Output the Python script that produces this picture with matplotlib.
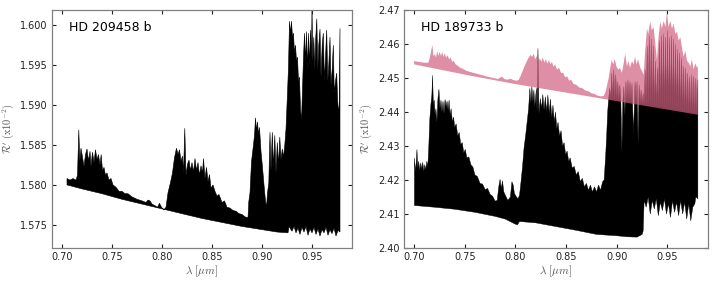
import numpy as np
import matplotlib
matplotlib.use("Agg")
import matplotlib.pyplot as plt

plt.rcParams['mathtext.fontset'] = 'cm'
plt.rcParams['font.family'] = ['DejaVu Sans']

# ---------------- HD 209458 b (left panel) ----------------
wl_up_a = [0.705, 0.708, 0.711, 0.714, 0.7155, 0.7168, 0.7178, 0.719, 0.7205, 0.722, 0.7235, 0.725,
           0.7265, 0.728, 0.729, 0.7305, 0.732, 0.7335, 0.735, 0.7365, 0.738, 0.7392, 0.7405, 0.742,
           0.7435, 0.745, 0.747, 0.749, 0.751, 0.754, 0.757, 0.760, 0.763, 0.766, 0.770, 0.775, 0.780,
           0.784, 0.786, 0.788, 0.790, 0.793, 0.7955, 0.7975, 0.7995, 0.802, 0.804, 0.806, 0.8085,
           0.8105, 0.8125, 0.8145, 0.816, 0.8175, 0.819, 0.8205, 0.8215, 0.8228, 0.824, 0.8255, 0.827,
           0.8285, 0.830, 0.8315, 0.833, 0.8345, 0.836, 0.8375, 0.839, 0.8405, 0.8415, 0.843, 0.8445,
           0.846, 0.8475, 0.849, 0.851, 0.853, 0.855, 0.857, 0.860, 0.8625, 0.865, 0.868, 0.871, 0.874,
           0.877, 0.880, 0.883, 0.886, 0.8868, 0.888, 0.8895, 0.891, 0.8925, 0.8935, 0.8945, 0.8955,
           0.8965, 0.8975, 0.899, 0.9005, 0.902, 0.9035, 0.9045, 0.9055, 0.9068, 0.908, 0.909, 0.9103,
           0.9115, 0.9128, 0.914, 0.9153, 0.9165, 0.9178, 0.919, 0.9203, 0.9215, 0.9228, 0.924, 0.9255,
           0.9265, 0.9275, 0.9285, 0.9295, 0.9305, 0.9315, 0.9325, 0.9335, 0.9345, 0.9355, 0.9365,
           0.9375, 0.9385, 0.9395, 0.9405, 0.9415, 0.9425, 0.9435, 0.9445, 0.9455, 0.9465, 0.9475,
           0.9485, 0.9495, 0.9500, 0.9508, 0.9518, 0.9528, 0.9538, 0.9548, 0.9558, 0.9568, 0.958,
           0.959, 0.9602, 0.9613, 0.9625, 0.9637, 0.9647, 0.9658, 0.9668, 0.968, 0.969, 0.9702, 0.9713,
           0.9723, 0.9735, 0.9747, 0.9757, 0.9765, 0.9772, 0.978]
up_a = [1.5808, 1.5806, 1.5808, 1.5806, 1.5812, 1.5869, 1.5830, 1.5846, 1.5835, 1.5823, 1.5838, 1.5845,
        1.5830, 1.5842, 1.5823, 1.5841, 1.5828, 1.5844, 1.5832, 1.5838, 1.5825, 1.5838, 1.5818, 1.5822,
        1.5812, 1.5815, 1.5806, 1.5808, 1.5800, 1.5797, 1.5792, 1.5792, 1.5789, 1.5789, 1.5785, 1.5782,
        1.5780, 1.5778, 1.5781, 1.5780, 1.5776, 1.5774, 1.5772, 1.5777, 1.5772, 1.5769, 1.5772, 1.5790,
        1.5803, 1.5815, 1.5834, 1.5846, 1.5838, 1.5844, 1.5830, 1.5836, 1.5815, 1.5871, 1.5812, 1.5826,
        1.5831, 1.5818, 1.5828, 1.5816, 1.5833, 1.5818, 1.5828, 1.5812, 1.5824, 1.5815, 1.5833, 1.5808,
        1.5822, 1.5804, 1.5813, 1.5796, 1.5800, 1.5792, 1.5786, 1.5788, 1.5778, 1.5780, 1.5772, 1.5771,
        1.5768, 1.5767, 1.5764, 1.5763, 1.5760, 1.5759, 1.5779, 1.5790, 1.5829, 1.5845, 1.5862, 1.5884,
        1.5868, 1.5879, 1.5863, 1.5872, 1.5842, 1.5822, 1.5800, 1.5780, 1.5772, 1.5790, 1.5802, 1.5866,
        1.5818, 1.5866, 1.5822, 1.5862, 1.5815, 1.5853, 1.5825, 1.5860, 1.5832, 1.5845, 1.5835, 1.5850,
        1.5870, 1.5915, 1.5948, 1.6005, 1.5990, 1.6005, 1.5985, 1.5990, 1.5965, 1.5975, 1.5955, 1.5960,
        1.5930, 1.5935, 1.5895, 1.5880, 1.5920, 1.5960, 1.5990, 1.5955, 1.5992, 1.5945, 1.5990, 1.5950,
        1.5994, 1.5960, 1.6025, 1.5955, 1.5985, 1.5945, 1.5985, 1.6008, 1.5945, 1.5975, 1.5995, 1.5935,
        1.5975, 1.5990, 1.5930, 1.5965, 1.5994, 1.5930, 1.5950, 1.5985, 1.5925, 1.5945, 1.5975, 1.5915,
        1.5930, 1.5940, 1.5905, 1.5890, 1.5900, 1.5996]
wl_lo_a = [0.705, 0.72, 0.74, 0.76, 0.78, 0.80, 0.82, 0.84, 0.86, 0.88, 0.90, 0.915, 0.926, 0.927,
           0.930, 0.932, 0.934, 0.936, 0.938, 0.940, 0.942, 0.944, 0.946, 0.948, 0.950, 0.952, 0.954,
           0.956, 0.958, 0.960, 0.962, 0.964, 0.966, 0.968, 0.970, 0.972, 0.974, 0.976, 0.978]
lo_a = [1.5800, 1.5795, 1.5789, 1.5782, 1.5776, 1.5770, 1.5764, 1.5758, 1.5753, 1.5748, 1.5744, 1.5741,
        1.5740, 1.5748, 1.5742, 1.5748, 1.5740, 1.5746, 1.5738, 1.5747, 1.5741, 1.5748, 1.5737, 1.5745,
        1.5740, 1.5747, 1.5738, 1.5745, 1.5736, 1.5744, 1.5740, 1.5747, 1.5737, 1.5744, 1.5739, 1.5746,
        1.5736, 1.5743, 1.5741]

# ---------------- HD 189733 b (right panel), black spectrum ----------------
wl_up_b = [0.7003, 0.7012, 0.702, 0.7028, 0.7036, 0.7045, 0.7055, 0.7065, 0.7075, 0.7085, 0.7095,
           0.7105, 0.7115, 0.7125, 0.7135, 0.7145, 0.7155, 0.7165, 0.7175, 0.7182, 0.719, 0.7198,
           0.7207, 0.7215, 0.7225, 0.7235, 0.7245, 0.7255, 0.7265, 0.7275, 0.7285, 0.7295, 0.7305,
           0.7315, 0.7325, 0.7335, 0.7345, 0.7355, 0.7365, 0.7378, 0.739, 0.740, 0.7415, 0.743, 0.7445,
           0.746, 0.7475, 0.749, 0.7505, 0.752, 0.754, 0.756, 0.758, 0.760, 0.7625, 0.765, 0.7675,
           0.770, 0.7725, 0.775, 0.7775, 0.780, 0.782, 0.7835, 0.7848, 0.786, 0.7872, 0.7885, 0.790,
           0.7925, 0.795, 0.7965, 0.7978, 0.799, 0.801, 0.8025, 0.804, 0.8055, 0.807, 0.8085, 0.810,
           0.8115, 0.813, 0.8142, 0.8152, 0.8162, 0.8172, 0.8182, 0.819, 0.8198, 0.8207, 0.8213,
           0.8222, 0.8232, 0.8245, 0.8258, 0.827, 0.8282, 0.8295, 0.8308, 0.832, 0.8333, 0.8345,
           0.8358, 0.837, 0.8383, 0.8395, 0.8408, 0.842, 0.8435, 0.845, 0.8465, 0.848, 0.8495, 0.851,
           0.8525, 0.854, 0.856, 0.858, 0.860, 0.862, 0.864, 0.866, 0.868, 0.870, 0.872, 0.874, 0.876,
           0.878, 0.880, 0.882, 0.884, 0.886, 0.8875, 0.889, 0.890, 0.891, 0.892, 0.893, 0.894, 0.895,
           0.896, 0.897, 0.898, 0.899, 0.900, 0.901, 0.902, 0.903, 0.904, 0.905, 0.906, 0.907, 0.908,
           0.909, 0.910, 0.911, 0.912, 0.913, 0.914, 0.915, 0.9165, 0.918, 0.919, 0.920, 0.921, 0.922,
           0.923, 0.924, 0.925, 0.926, 0.927, 0.928, 0.929, 0.930, 0.931, 0.932, 0.933, 0.934, 0.935,
           0.936, 0.937, 0.938, 0.939, 0.940, 0.941, 0.942, 0.943, 0.944, 0.945, 0.946, 0.947, 0.948,
           0.949, 0.950, 0.951, 0.952, 0.953, 0.954, 0.955, 0.956, 0.957, 0.958, 0.959, 0.960, 0.961,
           0.962, 0.963, 0.964, 0.965, 0.966, 0.967, 0.968, 0.969, 0.970, 0.971, 0.972, 0.973, 0.974,
           0.975, 0.976, 0.977, 0.978, 0.979, 0.980]
up_b = [2.4265, 2.4225, 2.4250, 2.4290, 2.4235, 2.4255, 2.4228, 2.4250, 2.4232, 2.4252, 2.4225,
        2.4245, 2.4230, 2.4255, 2.4240, 2.4300, 2.4380, 2.4420, 2.4450, 2.4508, 2.4420, 2.4435,
        2.4390, 2.4410, 2.4370, 2.4440, 2.4467, 2.4410, 2.4435, 2.4400, 2.4432, 2.4395, 2.4437,
        2.4415, 2.4432, 2.4405, 2.4435, 2.4390, 2.4410, 2.4370, 2.4385, 2.4355, 2.4365, 2.4330, 2.4340,
        2.4305, 2.4310, 2.4280, 2.4290, 2.4265, 2.4268, 2.4245, 2.4238, 2.4215, 2.4210, 2.4190, 2.4188,
        2.4172, 2.4175, 2.4158, 2.4152, 2.4138, 2.4140, 2.4180, 2.4202, 2.4175, 2.4198, 2.4165, 2.4155,
        2.4140, 2.4150, 2.4195, 2.4185, 2.4160, 2.4150, 2.4145, 2.4155, 2.4195, 2.4240, 2.4295, 2.4330,
        2.4370, 2.4410, 2.4470, 2.4425, 2.4475, 2.4430, 2.4465, 2.4415, 2.4440, 2.4470, 2.4400,
        2.4587, 2.4395, 2.4440, 2.4410, 2.4452, 2.4405, 2.4445, 2.4400, 2.4450, 2.4395, 2.4438,
        2.4385, 2.4420, 2.4370, 2.4400, 2.4350, 2.4370, 2.4330, 2.4345, 2.4300, 2.4310, 2.4275, 2.4285,
        2.4255, 2.4265, 2.4235, 2.4240, 2.4215, 2.4225, 2.4195, 2.4205, 2.4180, 2.4190, 2.4170, 2.4185,
        2.4165, 2.4180, 2.4165, 2.4185, 2.4170, 2.4195, 2.4200, 2.4270, 2.4330, 2.4400, 2.4440, 2.4470,
        2.4440, 2.4515, 2.4439, 2.4525, 2.4438, 2.4510, 2.4436, 2.4490, 2.4435, 2.4480, 2.4434, 2.4283,
        2.4433, 2.4475, 2.4391, 2.4490, 2.4431, 2.4495, 2.4430, 2.4490, 2.4429, 2.4485, 2.4332, 2.4490,
        2.4426, 2.4490, 2.4308, 2.4480, 2.4424, 2.4465, 2.4423, 2.4455, 2.4422, 2.4525, 2.4421, 2.4595,
        2.4420, 2.4625, 2.4419, 2.4615, 2.4418, 2.4595, 2.4417, 2.4550, 2.4416, 2.4530, 2.4415, 2.4610,
        2.4414, 2.4625, 2.4413, 2.4630, 2.4412, 2.4620, 2.4411, 2.4640, 2.4410, 2.4620, 2.4409, 2.4625,
        2.4408, 2.4615, 2.4407, 2.4600, 2.4406, 2.4585, 2.4405, 2.4575, 2.4404, 2.4560, 2.4403, 2.4535,
        2.4402, 2.4530, 2.4401, 2.4515, 2.4400, 2.4505, 2.4399, 2.4510, 2.4398, 2.4505, 2.4397, 2.4500,
        2.4396, 2.4495]
wl_lo_b = [0.7003, 0.72, 0.74, 0.76, 0.78, 0.790, 0.800, 0.802, 0.804, 0.82, 0.84, 0.86, 0.88, 0.89,
           0.90, 0.91, 0.92, 0.925, 0.926, 0.927, 0.929, 0.931, 0.933, 0.935, 0.937, 0.939, 0.941, 0.943,
           0.945, 0.947, 0.949, 0.951, 0.953, 0.955, 0.957, 0.959, 0.961, 0.963, 0.965, 0.967, 0.969,
           0.971, 0.973, 0.975, 0.977, 0.978, 0.980]
lo_b = [2.4125, 2.4120, 2.4114, 2.4105, 2.4093, 2.4085, 2.4070, 2.4068, 2.4078, 2.4074, 2.4063, 2.4052,
        2.4040, 2.4038, 2.4036, 2.4033, 2.4032, 2.4040, 2.4050, 2.4140, 2.4120, 2.4150, 2.4100, 2.4140,
        2.4115, 2.4145, 2.4095, 2.4135, 2.4110, 2.4145, 2.4100, 2.4130, 2.4090, 2.4140, 2.4105, 2.4135,
        2.4095, 2.4140, 2.4100, 2.4135, 2.4085, 2.4130, 2.4080, 2.4120, 2.4130, 2.4150, 2.4145]

# ---------------- HD 189733 b, pink spectrum ----------------
wl_up_p = [0.700, 0.705, 0.710, 0.714, 0.7155, 0.7168, 0.7180, 0.7190, 0.7205, 0.7215, 0.7228,
           0.7240, 0.7252, 0.7265, 0.7278, 0.729, 0.7302, 0.7315, 0.733, 0.7345, 0.736, 0.7375, 0.739,
           0.741, 0.743, 0.745, 0.748, 0.751, 0.755, 0.760, 0.765, 0.770, 0.775, 0.780, 0.783, 0.785,
           0.787, 0.789, 0.792, 0.795, 0.798, 0.801, 0.803, 0.805, 0.807, 0.809, 0.811, 0.813, 0.815,
           0.8165, 0.818, 0.8195, 0.821, 0.8225, 0.824, 0.8255, 0.827, 0.8285, 0.830, 0.8315, 0.833,
           0.8345, 0.836, 0.8375, 0.839, 0.841, 0.843, 0.845, 0.847, 0.849, 0.851, 0.853, 0.855, 0.857,
           0.860, 0.863, 0.866, 0.869, 0.872, 0.875, 0.878, 0.881, 0.884, 0.887, 0.889, 0.8905, 0.892,
           0.8935, 0.895, 0.8965, 0.898, 0.8995, 0.9015, 0.903, 0.905, 0.9068, 0.9083, 0.910, 0.9117,
           0.913, 0.915, 0.9165, 0.918, 0.9195, 0.921, 0.9232, 0.925, 0.9265, 0.928, 0.9298, 0.931,
           0.933, 0.9345, 0.9363, 0.938, 0.9396, 0.9412, 0.9429, 0.9445, 0.9462, 0.948, 0.9495, 0.951,
           0.9528, 0.9545, 0.956, 0.9578, 0.9594, 0.961, 0.9627, 0.9645, 0.966, 0.9676, 0.9693, 0.971,
           0.9726, 0.974, 0.9758, 0.9775, 0.9792, 0.980]
up_p = [2.4550, 2.4547, 2.4545, 2.4545, 2.4560, 2.4580, 2.4597, 2.4565, 2.4570, 2.4560, 2.4578,
        2.4565, 2.4577, 2.4565, 2.4576, 2.4562, 2.4573, 2.4560, 2.4567, 2.4555, 2.4560, 2.4548, 2.4550,
        2.4540, 2.4536, 2.4531, 2.4527, 2.4522, 2.4518, 2.4514, 2.4510, 2.4506, 2.4502, 2.4499, 2.4497,
        2.4502, 2.4503, 2.4497, 2.4495, 2.4498, 2.4494, 2.4492, 2.4494, 2.4505, 2.4520, 2.4535, 2.4548,
        2.4560, 2.4568, 2.4562, 2.4572, 2.4555, 2.4565, 2.4545, 2.4558, 2.4548, 2.4560, 2.4545, 2.4555,
        2.4542, 2.4553, 2.4540, 2.4548, 2.4533, 2.4540, 2.4525, 2.4530, 2.4515, 2.4515, 2.4502, 2.4505,
        2.4492, 2.4495, 2.4483, 2.4480, 2.4472, 2.4470, 2.4463, 2.4461, 2.4455, 2.4453, 2.4448, 2.4446,
        2.4447, 2.4460, 2.4480, 2.4500, 2.4530, 2.4553, 2.4540, 2.4556, 2.4535, 2.4524, 2.4530, 2.4515,
        2.4543, 2.4572, 2.4535, 2.4550, 2.4530, 2.4550, 2.4540, 2.4563, 2.4540, 2.4555, 2.4530, 2.4520,
        2.4509, 2.4580, 2.4646, 2.4630, 2.4666, 2.4640, 2.4650, 2.4600, 2.4553, 2.4620, 2.4666, 2.4645,
        2.4668, 2.4650, 2.4695, 2.4650, 2.4668, 2.4645, 2.4660, 2.4630, 2.4636, 2.4610, 2.4620, 2.4585,
        2.4563, 2.4580, 2.4550, 2.4545, 2.4533, 2.4555, 2.4525, 2.4543, 2.4530, 2.4535]
wl_lo_p = [0.700, 0.75, 0.80, 0.85, 0.90, 0.95, 0.98]
lo_p = [2.4540, 2.4510, 2.4482, 2.4457, 2.4432, 2.4407, 2.4392]

xticks = [0.70, 0.75, 0.80, 0.85, 0.90, 0.95]
yticks_a = [1.575, 1.580, 1.585, 1.590, 1.595, 1.600]
yticks_b = [2.40, 2.41, 2.42, 2.43, 2.44, 2.45, 2.46, 2.47]

PINK = '#d0607f'


def poly(ax, wu, yu, wl, yl, **kw):
    xs = np.concatenate([np.asarray(wu), np.asarray(wl)[::-1]])
    ys = np.concatenate([np.asarray(yu), np.asarray(yl)[::-1]])
    ax.fill(xs, ys, **kw)


def style(ax, yticks, yfmt, title):
    ax.set_xlim(0.69, 0.99)
    ax.set_xticks(xticks)
    ax.set_xticklabels(['%.2f' % v for v in xticks])
    ax.set_yticks(yticks)
    ax.set_yticklabels([yfmt % v for v in yticks])
    ax.tick_params(direction='in', top=True, right=True, length=3, width=0.8,
                   labelsize=7, colors='#222222', pad=3)
    for s in ax.spines.values():
        s.set_color('#808080')
        s.set_linewidth(0.9)
    ax.set_xlabel(r'$\lambda\ [\mu m]$', fontsize=8, color='#555555', labelpad=1)
    ax.set_ylabel(r"$\mathcal{R}'\ (\mathrm{x}10^{-2})$", fontsize=7.5, color='#555555', labelpad=3)
    ax.text(0.057, 0.955, title, transform=ax.transAxes, ha='left', va='top',
            fontsize=9, color='black')


fig = plt.figure(figsize=(7.12, 2.82), dpi=100)
ax1 = fig.add_axes([52 / 712, 34 / 282, 300 / 712, 238 / 282])
ax2 = fig.add_axes([404 / 712, 34 / 282, 304 / 712, 238 / 282])

poly(ax1, wl_up_a, up_a, wl_lo_a, lo_a, facecolor='black', edgecolor='black', lw=0.4)
ax1.set_ylim(1.5721, 1.6019)
style(ax1, yticks_a, '%.3f', 'HD 209458 b')

poly(ax2, wl_up_b, up_b, wl_lo_b, lo_b, facecolor='black', edgecolor='black', lw=0.3, zorder=2)
poly(ax2, wl_up_p, up_p, wl_lo_p, lo_p, facecolor=PINK, edgecolor='none', alpha=0.7, zorder=3)
ax2.set_ylim(2.40, 2.47)
style(ax2, yticks_b, '%.2f', 'HD 189733 b')

fig.savefig('out.png', dpi=100)
